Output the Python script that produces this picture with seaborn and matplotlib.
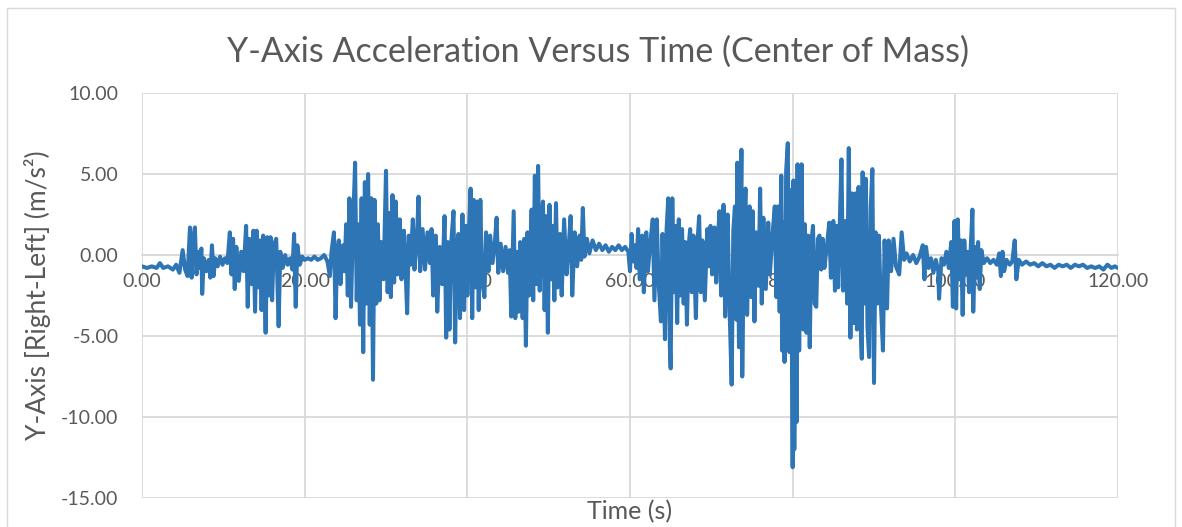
import pandas as pd
import matplotlib
matplotlib.use("Agg")
import matplotlib.pyplot as plt
from matplotlib.patches import Rectangle
import seaborn as sns

# (time [s], y acceleration [m/s^2]), one list per 20 s stretch
seg_000_020 = [
    (0.0, -0.7), (0.6, -0.8), (1.2, -0.7), (1.8, -0.8), (2.2, -0.5), (2.6, -0.8), (3.2, -0.7),
    (3.8, -0.9), (4.2, -0.6), (4.6, -1.1), (5.0, 0.3), (5.3, -0.9), (5.6, -1.3), (5.9, 1.7),
    (6.1, -1.4), (6.3, 0.9), (6.5, 1.7), (6.7, -1.2), (6.9, 0.2), (7.1, -0.8), (7.3, 0.4),
    (7.4, -2.4), (7.6, -0.2), (7.9, -1.0), (8.2, -0.3), (8.4, -1.4), (8.6, 0.6), (8.8, -1.3),
    (9.0, -0.2), (9.3, -0.7), (9.6, -0.1), (9.9, -0.6), (10.2, -0.2), (10.5, -0.5), (10.8, 1.4),
    (11.0, -1.2), (11.2, 1.0), (11.4, -2.1), (11.6, 0.5), (11.9, -1.6), (12.2, 0.2), (12.5, -1.0),
    (12.8, 1.8), (13.0, -3.2), (13.2, 1.0), (13.5, -1.8), (13.7, 1.5), (13.9, -3.5), (14.1, 1.5),
    (14.3, -2.0), (14.5, 0.9), (14.7, -3.4), (14.9, 1.2), (15.2, -4.8), (15.4, 1.1), (15.6, -2.5),
    (15.8, 1.1), (16.0, -2.8), (16.2, 0.6), (16.5, 1.0), (16.8, -4.4), (17.0, 0.2), (17.3, -0.8),
    (17.6, 0.0), (17.9, -0.6), (18.2, -0.2), (18.5, -0.9), (18.7, 1.3), (18.9, -3.2), (19.1, 0.6),
    (19.4, -0.6), (19.7, -0.1), (20.0, -0.3),
]
seg_020_040 = [
    (20.4, -0.2), (20.8, -0.3), (21.2, -0.1), (21.6, -0.3), (22.0, -0.2), (22.4, 0.0), (22.8, -0.4),
    (23.1, -1.3), (23.3, 0.2), (23.6, 1.4), (23.8, -3.9), (24.0, 0.2), (24.2, 0.9), (24.4, -1.8),
    (24.7, 0.6), (24.9, -1.0), (25.1, 1.9), (25.3, -2.5), (25.5, 3.5), (25.7, -3.2), (25.9, 1.0),
    (26.2, 5.7), (26.4, -2.8), (26.6, 1.9), (26.8, -4.3), (27.0, 3.5), (27.2, -6.0), (27.4, 4.5),
    (27.6, -3.0), (27.8, 5.0), (28.0, -4.3), (28.2, 3.5), (28.4, -7.7), (28.6, 3.4), (28.8, -3.0),
    (29.0, 1.9), (29.2, -2.8), (29.4, 0.8), (29.7, -1.5), (30.0, 5.2), (30.2, -2.3), (30.4, 2.6),
    (30.6, -2.6), (30.8, 3.7), (31.0, -1.7), (31.2, 3.3), (31.4, -1.2), (31.7, 2.2), (31.9, -1.5),
    (32.2, 1.5), (32.4, -0.8), (32.6, -3.6), (32.8, 1.2), (33.0, -0.6), (33.3, 2.2), (33.5, -0.9),
    (33.8, 1.0), (34.0, 3.6), (34.2, -1.0), (34.5, 1.6), (34.8, -0.9), (35.1, 1.4), (35.4, -0.5),
    (35.6, 1.6), (35.8, -2.5), (36.1, 1.2), (36.3, -3.5), (36.6, 0.5), (36.9, -1.8), (37.2, 2.4),
    (37.4, -5.1), (37.6, 0.8), (37.8, -4.6), (38.0, 0.6), (38.3, 2.7), (38.5, -5.4), (38.7, 0.4),
    (38.9, 1.3), (39.1, -3.9), (39.4, 2.5), (39.6, -3.4), (39.8, 1.8),
]
seg_040_060 = [
    (40.0, -2.5), (40.2, 1.5), (40.4, 4.1), (40.6, -3.9), (40.8, 3.4), (41.0, -2.0), (41.2, 3.3),
    (41.4, -3.4), (41.6, 3.4), (41.8, -1.5), (42.1, -2.6), (42.3, 1.4), (42.6, -1.0), (42.8, 1.2),
    (43.1, -0.5), (43.4, 0.9), (43.6, 2.3), (43.8, -1.1), (44.1, 0.7), (44.4, -1.0), (44.7, 0.5),
    (45.0, -1.1), (45.2, 0.3), (45.4, -3.8), (45.7, 2.7), (45.9, -3.9), (46.1, 0.2), (46.3, -3.5),
    (46.5, 0.8), (46.8, -3.9), (47.0, 1.0), (47.2, -5.6), (47.4, 1.4), (47.6, -2.5), (47.9, 2.8),
    (48.1, -2.8), (48.3, 4.9), (48.5, -1.8), (48.7, 5.5), (48.9, -2.2), (49.1, 2.0), (49.3, 3.3),
    (49.5, -3.4), (49.7, 2.4), (49.9, -4.8), (50.1, 3.1), (50.3, -1.5), (50.5, 1.8), (50.7, -2.8),
    (50.9, 3.2), (51.1, -2.0), (51.4, 1.3), (51.6, -2.5), (51.9, 2.2), (52.2, -1.2), (52.5, 0.8),
    (52.7, 2.4), (52.9, -2.5), (53.2, 1.4), (53.5, -0.7), (53.8, 1.2), (54.0, -0.3), (54.2, 2.9),
    (54.4, -0.1), (54.7, 1.0), (55.0, 0.1), (55.4, 0.9), (55.8, 0.3), (56.2, 0.7), (56.6, 0.3),
    (57.0, 0.6), (57.4, 0.2), (57.8, 0.5), (58.2, 0.3), (58.6, 0.6), (59.0, 0.3), (59.4, 0.5),
    (59.8, 0.2),
]
seg_060_080 = [
    (60.0, -1.0), (60.2, 1.3), (60.4, -0.4), (60.6, 0.6), (60.8, -0.8), (61.0, 1.6), (61.2, -1.5),
    (61.5, 1.2), (61.7, -2.3), (62.0, 1.4), (62.2, -1.0), (62.5, 0.8), (62.8, 2.2), (63.0, -2.8),
    (63.3, 2.2), (63.5, -1.5), (63.8, -4.1), (64.0, 1.3), (64.3, -5.2), (64.5, 1.6), (64.7, 3.5),
    (64.9, -5.7), (65.0, -7.0), (65.2, 3.5), (65.4, -2.3), (65.6, 1.8), (65.8, -4.2), (66.0, 2.2),
    (66.2, -2.5), (66.4, 1.6), (66.6, -3.0), (66.8, 0.8), (67.0, -4.3), (67.2, 0.5), (67.4, 1.6),
    (67.6, -2.3), (67.8, 1.2), (68.1, -3.9), (68.3, 0.8), (68.5, 2.4), (68.7, -2.3), (68.9, 0.9),
    (69.2, -2.8), (69.5, 1.6), (69.7, -0.7), (69.9, 1.8), (70.1, -1.2), (70.4, 1.7), (70.6, -1.7),
    (70.8, 0.9), (71.0, 2.7), (71.2, -2.5), (71.5, 3.1), (71.7, -3.8), (72.0, 2.5), (72.2, -2.6),
    (72.5, -8.0), (72.7, 1.5), (72.9, 3.0), (73.1, -4.0), (73.2, 5.7), (73.4, -5.7), (73.7, 6.5),
    (73.8, -7.5), (74.0, 1.2), (74.2, 4.1), (74.4, -3.7), (74.7, 3.0), (74.9, -2.6), (75.1, 2.7),
    (75.3, -4.1), (75.5, 1.4), (75.8, -1.9), (76.0, 4.1), (76.2, -3.0), (76.4, 2.3), (76.7, -2.1),
    (77.0, 2.0), (77.2, -1.2), (77.5, 1.1), (77.8, 3.0), (78.0, -2.6), (78.2, 3.0), (78.4, -3.5),
    (78.6, 4.9), (78.7, -5.9), (78.9, 2.0), (79.0, -6.6), (79.2, 5.2), (79.4, 6.9), (79.6, -6.0),
    (79.8, 4.0),
]
seg_080_100 = [
    (80.0, -13.1), (80.1, 4.6), (80.2, -12.0), (80.4, 3.1), (80.5, -10.3), (80.6, 5.6), (80.8, -5.9),
    (81.0, 2.5), (81.1, 5.6), (81.3, -4.6), (81.5, 1.9), (81.7, -4.8), (81.9, 1.2), (82.1, -5.7),
    (82.3, 0.8), (82.5, 1.8), (82.7, -3.0), (82.9, -3.2), (83.1, 1.0), (83.3, 1.2), (83.5, -0.9),
    (83.7, 1.0), (83.9, -0.8), (84.2, 0.5), (84.5, 2.0), (84.7, -1.4), (85.0, 2.1), (85.2, -2.2),
    (85.4, 1.8), (85.6, -2.0), (85.8, 2.1), (86.0, 5.9), (86.2, -2.2), (86.5, 2.1), (86.7, -3.0),
    (86.9, 6.6), (87.1, -5.1), (87.3, 3.8), (87.5, -4.2), (87.7, 3.8), (87.9, -4.6), (88.1, 4.2),
    (88.3, -3.5), (88.5, -6.4), (88.6, 5.1), (88.8, -3.0), (89.0, 4.7), (89.2, -4.5), (89.4, -6.3),
    (89.6, 3.0), (89.8, 5.3), (90.0, -7.9), (90.2, 1.4), (90.4, -3.0), (90.6, 1.2), (90.8, -2.4),
    (91.1, -5.9), (91.3, 0.9), (91.6, -3.3), (91.8, 0.9), (92.1, -1.0), (92.4, 1.0), (92.7, -0.7),
    (93.1, -1.2), (93.4, 1.4), (93.7, -0.3), (94.0, 0.1), (94.4, -0.4), (94.8, 0.0), (95.2, -0.5),
    (95.6, -0.1), (96.0, 0.6), (96.2, -1.5), (96.4, 0.5), (96.7, -0.8), (97.0, -0.2), (97.3, -1.1),
    (97.6, -0.3), (97.9, -1.0), (98.0, -2.7), (98.3, -0.2), (98.6, -0.6), (98.9, 0.2), (99.2, -0.8),
    (99.5, 0.8), (99.7, -3.2), (99.9, 2.1),
]
seg_100_120 = [
    (100.1, -3.3), (100.3, 2.2), (100.5, -1.5), (100.7, 0.9), (100.9, -3.7), (101.1, 0.9),
    (101.3, -1.2), (101.5, 0.2), (101.7, -2.3), (101.9, 0.5), (102.1, 2.8), (102.2, -3.5),
    (102.4, 0.5), (102.6, -1.4), (102.8, 0.8), (103.0, -2.1), (103.2, 0.3), (103.5, -0.5),
    (103.9, -0.2), (104.3, -0.5), (104.7, -0.3), (105.1, -0.6), (105.4, 0.1), (105.6, -1.3),
    (105.8, 0.2), (106.0, -1.0), (106.3, -0.3), (106.7, -0.6), (107.0, -0.4), (107.3, 0.9),
    (107.5, -1.5), (107.8, -0.3), (108.2, -0.6), (108.7, -0.4), (109.2, -0.6), (109.7, -0.5),
    (110.2, -0.7), (110.7, -0.5), (111.2, -0.7), (111.7, -0.6), (112.2, -0.8), (112.7, -0.6),
    (113.2, -0.7), (113.7, -0.6), (114.2, -0.8), (114.7, -0.6), (115.2, -0.7), (115.7, -0.6),
    (116.2, -0.8), (116.7, -0.7), (117.2, -0.8), (117.7, -0.7), (118.2, -0.9), (118.7, -0.6),
    (119.2, -0.8), (119.6, -0.7), (120.0, -0.8),
]

x_ticks = [0, 20, 40, 60, 80, 100, 120]
y_ticks = [-15, -10, -5, 0, 5, 10]

title = "Y-Axis Acceleration Versus Time (Center of Mass)"
x_label = "Time (s)"
y_label = "Y-Axis [Right-Left] (m/s²)"

df = pd.DataFrame(
    seg_000_020 + seg_020_040 + seg_040_060 + seg_060_080 + seg_080_100 + seg_100_120,
    columns=["time", "accel"],
)

sns.set_theme(style="whitegrid")
plt.rcParams["font.family"] = ["Lato", "DejaVu Sans"]
text_color = "#595959"
grid_color = "#d9d9d9"

W, H = 1182, 527
fig = plt.figure(figsize=(W / 100, H / 100), dpi=100)
fig.patch.set_facecolor("white")
ax = fig.add_axes([142 / W, 1 - 498 / H, (1118 - 142) / W, (498 - 93) / H])
ax.set_facecolor("white")

sns.lineplot(data=df, x="time", y="accel", ax=ax, color="#2E75B6",
             linewidth=2.9, sort=False, estimator=None)
line = ax.lines[0]
line.set_solid_joinstyle("round")
line.set_solid_capstyle("round")

ax.set_xlim(0, 120)
ax.set_ylim(-15, 10)
ax.set_xticks(x_ticks)
ax.set_xticklabels([f"{v:.2f}" for v in x_ticks])
ax.set_yticks(y_ticks)
ax.set_yticklabels([f"{v:.2f}" for v in y_ticks])
ax.grid(True, color=grid_color, linewidth=1.3)
ax.set_axisbelow(True)

for side in ["top", "right", "left"]:
    ax.spines[side].set_visible(False)
# the horizontal axis crosses at zero, underneath the trace
ax.spines["bottom"].set_position(("data", 0))
ax.spines["bottom"].set_color(grid_color)
ax.spines["bottom"].set_linewidth(1.3)
ax.spines["bottom"].set_zorder(0.6)

ax.tick_params(axis="x", length=0, pad=13, labelsize=14, labelcolor=text_color)
ax.tick_params(axis="y", length=0, pad=17, labelsize=14, labelcolor=text_color)
ax.set_xlabel("")
ax.set_ylabel("")

fig.text(598 / W, 1 - 52 / H, title, ha="center", va="center", fontsize=24.5, color=text_color)
fig.text(630 / W, 1 - 512 / H, x_label, ha="center", va="center", fontsize=18, color=text_color)
fig.text(38 / W, 1 - 295 / H, y_label, ha="center", va="center", rotation=90,
         fontsize=19, color=text_color)

fig.add_artist(Rectangle((7 / W, -0.05), (1175 - 7) / W, 1.05 - 8 / H,
                         transform=fig.transFigure, fill=False,
                         edgecolor=grid_color, linewidth=1.0))

fig.savefig("out.png", dpi=100)
